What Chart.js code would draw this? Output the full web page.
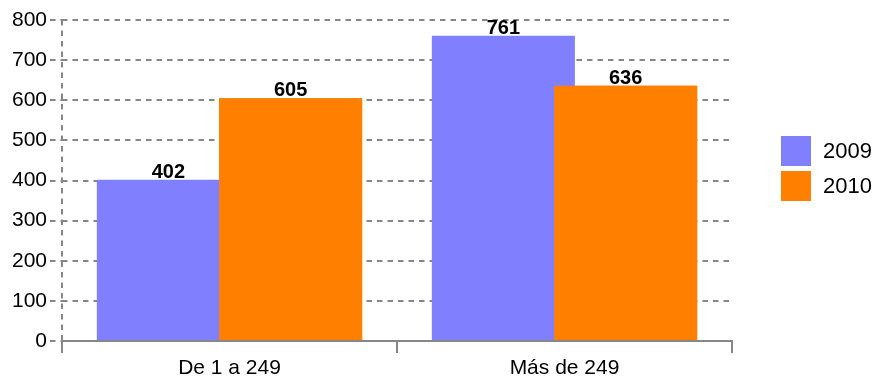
<!DOCTYPE html>
<html>
<head>
<meta charset="utf-8">
<script src="https://cdn.jsdelivr.net/npm/chart.js@4/dist/chart.umd.min.js"></script>
<style>
  body { margin: 0; background: #fff; }
  #wrap { width: 877px; height: 376px; }
</style>
</head>
<body>
<div id="wrap"><canvas id="chart" width="877" height="376"></canvas></div>
<script>
// chart data
const categories = ['De 1 a 249', 'Más de 249'];
const seriesNames = ['2009', '2010'];
const values2009 = [402, 761];
const values2010 = [605, 636];
const yTicks = [0, 100, 200, 300, 400, 500, 600, 700, 800];

const colors = ['#8080ff', '#ff8000'];
const gridGrey = '#878787';
const dash = [5.5, 5];
const fontFamily = "'Liberation Sans', Arial, sans-serif";

Chart.defaults.font.family = fontFamily;
Chart.defaults.color = '#000';

// orange bars overlap the blue ones, so paint dataset 1 again on top, then the value labels
const overlayPlugin = {
  id: 'overlay',
  afterDatasetsDraw(chart) {
    const ctx = chart.ctx;
    chart.getDatasetMeta(1).controller.draw();

    ctx.save();
    ctx.font = 'bold 20px ' + fontFamily;
    ctx.fillStyle = '#000';
    ctx.textAlign = 'center';
    ctx.textBaseline = 'alphabetic';
    chart.data.datasets.forEach((ds, di) => {
      chart.getDatasetMeta(di).data.forEach((bar, i) => {
        ctx.fillText(String(ds.data[i]), bar.x, bar.y - 2);
      });
    });
    ctx.restore();
  },
  afterDraw(chart) {
    // legend on the right
    const ctx = chart.ctx;
    const x0 = chart.chartArea.right + 49;
    const y0 = 136;
    ctx.save();
    ctx.font = '22px ' + fontFamily;
    ctx.textBaseline = 'middle';
    ctx.textAlign = 'left';
    chart.data.datasets.forEach((ds, i) => {
      const y = y0 + i * 35;
      ctx.fillStyle = ds.backgroundColor;
      ctx.fillRect(x0, y, 30, 30);
      ctx.fillStyle = '#000';
      ctx.fillText(ds.label, x0 + 42, y + 15.5);
    });
    ctx.restore();
  }
};

new Chart(document.getElementById('chart').getContext('2d'), {
  type: 'bar',
  data: {
    labels: categories,
    datasets: [
      { label: seriesNames[0], data: values2009, backgroundColor: colors[0] },
      { label: seriesNames[1], data: values2010, backgroundColor: colors[1] }
    ]
  },
  options: {
    responsive: false,
    animation: false,
    layout: { padding: { left: 0, top: 20, right: 145, bottom: 0 } },
    datasets: {
      bar: { categoryPercentage: 0.73, barPercentage: 1.17 }
    },
    plugins: {
      legend: { display: false },
      tooltip: { enabled: false }
    },
    scales: {
      x: {
        afterFit(scale) { scale.height = 35; },
        grid: {
          offset: true,
          drawOnChartArea: true,
          color: (c) => c.index === 0 ? gridGrey : 'rgba(0,0,0,0)',
          lineWidth: 2,
          tickLength: 12,
          tickColor: gridGrey,
          tickWidth: 2
        },
        border: { display: true, color: gridGrey, width: 2, dash: dash },
        ticks: { color: '#000', font: { size: 21 }, padding: 3 }
      },
      y: {
        min: yTicks[0],
        max: yTicks[yTicks.length - 1],
        afterFit(scale) { scale.width = 62; },
        afterBuildTicks(scale) { scale.ticks = yTicks.map(v => ({ value: v })); },
        grid: {
          color: gridGrey,
          lineWidth: 2,
          tickLength: 12,
          tickColor: gridGrey,
          tickWidth: 2,
          tickBorderDash: dash
        },
        border: { display: false, dash: dash },
        ticks: { color: '#000', font: { size: 21 }, padding: 3 }
      }
    }
  },
  plugins: [overlayPlugin]
});
</script>
</body>
</html>
